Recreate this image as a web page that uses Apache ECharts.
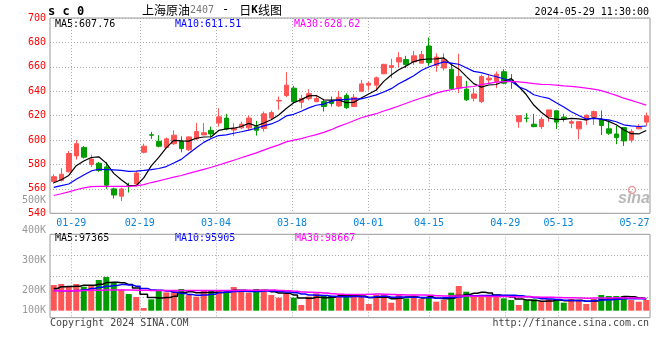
<!DOCTYPE html>
<html><head><meta charset="utf-8">
<script src="https://cdn.jsdelivr.net/npm/echarts@6/dist/echarts.min.js"></script>
<style>html,body{margin:0;padding:0;background:#fff}#c{width:660px;height:360px}</style>
</head><body><div id="c"></div>
<script>
const dates = ['01-24','01-25','01-26','01-29','01-30','01-31','02-01','02-02','02-05','02-06','02-07','02-08','02-19','02-20','02-21','02-22','02-23','02-26','02-27','02-28','02-29','03-01','03-04','03-05','03-06','03-07','03-08','03-11','03-12','03-13','03-14','03-15','03-18','03-19','03-20','03-21','03-22','03-25','03-26','03-27','03-28','03-29','04-01','04-02','04-03','04-08','04-09','04-10','04-11','04-12','04-15','04-16','04-17','04-18','04-19','04-22','04-23','04-24','04-25','04-26','04-29','04-30','05-06','05-07','05-08','05-09','05-10','05-13','05-14','05-15','05-16','05-17','05-20','05-21','05-22','05-23','05-24','05-27','05-28','05-29'];

const open = [566,567,574,587,594,580,581,578,560,554,
562.5,564,590,604.3,599,594,597,599,592,601,
604.2,608,614,618,608.3,610,610,611,609.5,618,
632,636.5,642.5,631,634,631.5,631.5,632,628,636.5,
627.5,640,645,645,654.3,659.5,664,666,664,663,
677,661,659,658,642.5,641.7,634.3,631.5,649.3,648,
656,649.3,615,618,613,611,619,624,618.8,613.8,
609.2,616.5,618.8,616.5,609.2,605,610.2,600,609.2,614.7];

const close = [570,572,589,597,586,584.5,575,563,555,560,
562,573,595,604,595,601,604,593,602.6,607,
606,605,619,609,609.7,613,618,608,621.5,622.5,
632.5,645,631.5,634,638,634,627.5,630,635,626.5,
635,646,646.5,651,662,661,667.5,662,669,670,
663.5,668,666,642,652,633,637.8,652,650.7,654,
646.6,648,620,617.8,611,617,624.7,614.7,617.4,615.1,
615.1,620.4,623.3,611.9,605.6,602,599.3,607,611,619.8];

const low = [564,566,573.5,584,585,578,574,560,552,550,
557,563,589,601,594,593.5,596,590,591,600,
604,602,611,608,603.4,609,607.6,603.7,607,617,
624.8,635.2,630.2,626,632.4,631,623.4,627.5,627,625.5,
627,639.3,641.2,640.3,654,650.7,659.7,659,661.7,663,
660.8,656,657,641,638.4,632,631.6,630.2,645.8,642.5,
645.8,642,610,614.5,610.5,609,615,609,615,609.7,
600.7,612.4,612.4,604.2,604.2,596.6,595.2,598,609,611.6];

const high = [572,577,591,600,595,588,582,582,561,561,
565,574.5,597,606.7,604,602,608,603,603,614,
614,611,626,621.5,613.8,615,620.4,615.7,623.3,624.2,
635.7,655.6,644.4,637,641.7,637,633.7,635.7,640.3,638.4,
637.9,649.3,648,652,662.5,666.6,672,669,673,673,
684,671,671,663,670.7,648.5,642.5,653.5,654,656.2,
658,654,620,622,621.5,618.8,624.7,624,621.5,616.5,
615.5,620.8,624.2,624.2,616,611.6,610.2,608.9,613,622.5];

const ma5 = [565,567.5,571,579,582.8,585.7,586.3,581.1,572.7,567.5,
563,562.6,569,578.8,585.8,593.6,599.8,599.4,599.1,601.5,
602.5,602.7,607.9,609.2,609.7,611.1,613.7,611.5,614,616.6,
620.5,625.9,630.6,633.1,636.2,636.5,633,632.7,632.9,630.6,
630.8,634.5,637.8,641,648.1,653.3,657.6,660.7,664.3,665.9,
666.4,666.5,667.3,661.9,658.3,652.2,646.2,643.4,645.1,645.5,
648.2,650.3,643.9,637.3,628.7,622.8,618.1,617,617,617.8,
617.4,616.5,618.3,617.2,615.3,612.6,608.4,605.2,605,607.8];

const ma10 = [561.3,562.7,564,567.9,571.4,574.7,576.1,575.8,575.5,575.2,
574.4,574.5,575.1,575.8,576.7,578.3,581.2,584.2,589,593.7,
598.1,601.3,603.7,604.2,605.6,606.8,608.2,609.7,611.6,613.2,
615.8,619.8,621.1,623.6,626.4,628.5,629.5,631.7,633,633.4,
633.7,633.8,635.3,637,639.4,642.1,646.1,649.3,652.7,657,
659.9,662.1,664,663.1,662.1,659.3,656.3,655.3,653.5,651.9,
650.2,648.2,643.6,641.2,637.1,635.5,634.2,630.5,627.1,623.2,
620.1,617.3,617.7,617.1,616.5,615,612.5,611.7,611.1,611.5];

const ma30 = [554.6,556,557.5,559.3,560.8,561.8,562,562,562,562,
562.1,562.5,563.5,565.2,566.6,568.1,569.6,571,572.7,574.3,
576,577.7,579.6,581.5,583.5,585.5,587.5,589.5,591.8,594,
596.1,598.5,599.9,601.2,602.9,604.5,606.3,608.5,611.2,613.4,
615.8,618.3,620,621.6,623.8,625.8,627.9,630.2,632.4,634.5,
636.4,638.5,640.1,641.2,642.6,643.3,643.9,645.4,646.4,647.4,
647.9,648,647.6,647.1,646.2,645.6,645.5,645,644.4,644,
643.4,642.5,641.8,640.5,638.6,636.6,634.3,632.5,630.6,628.6];

// volume in thousands
const vol = [208.7,216.8,200.5,216.8,195.1,208.7,249.3,273.7,227.6,173.4,
135.5,111.1,21.7,92.1,159.9,149,159.9,176.2,127.4,113.8,
159.9,168,168,146.3,192.4,159.9,146.3,176.2,159.9,127.4,
105.7,135.5,105.7,46.1,113.8,140.9,122,119.2,119.2,119.2,
127.4,113.8,54.2,127.4,127.4,65,135.5,100.3,124.7,94.9,
108.4,73.2,86.7,146.3,200.5,154.5,119.2,127.4,119.2,119.2,
100.3,86.7,46.1,86.7,92.1,73.2,92.1,86.7,65,94.9,
81.3,54.2,94.9,127.4,119.2,119.2,119.2,86.7,73.2,86.7];

const vma5 = [180,195,196,198,207.6,207.6,214.1,228.7,230.9,226.5,
211.9,184.3,133.9,106.8,104.1,106.8,116.5,147.4,154.5,145.3,
147.4,149.1,147.4,151.2,166.9,166.9,162.6,164.2,166.9,153.9,
143.1,140.9,126.8,104.1,101.4,108.4,105.7,108.4,123,124.1,
121.4,119.8,106.8,108.4,110,97.6,101.9,111.1,110.6,104.1,
112.8,100.3,97.6,101.9,123,132.2,141.4,149.6,144.2,127.9,
117.1,110.6,94.3,87.8,82.4,77,78,86.2,81.8,82.4,
84,76.4,78.1,90.5,95.4,103,116,114.3,103.5,97.4];

const vma10 = [165,163,163,164,170,180,190,198,205,212,
209.7,199.2,181.3,168.8,165.3,159.3,150.4,140.6,130.6,124.7,
127.1,132.8,147.4,152.8,156.1,157.2,155.8,155.8,159.1,160.4,
155,151.8,145.5,135.5,127.7,125.8,123.3,117.6,113.6,112.7,
114.9,112.7,107.6,115.7,117.1,109.5,110.8,108.9,109.5,107.1,
105.2,101.1,104.4,106.2,113.6,122.5,120.9,123.6,123,125.5,
124.7,126,121.9,116,105.1,97,94.3,90.2,84.8,82.4,
80.5,77.2,82.1,86.2,88.9,93.5,96.2,96.2,97,95.9];

const vma30 = [162,162,163,163,164,166,167,168,168,168,
168,167,166,165,165,164,164,164,164,164,
164,164,165,165,165,166,166,166,167,167.4,
164,161.2,158.1,152.4,149.7,147.4,143.2,138,134.4,132.6,
132.3,132.4,133.5,134.7,133.6,130.8,130,127.5,127.4,126.7,
125,121.9,119.2,119.2,119.4,119.2,118.3,116.7,115.4,115.1,
114.9,113.3,111.3,112.6,111.9,109.7,108.7,107.6,105.8,105,
103.4,101.4,102.8,102.8,102.5,104.3,103.8,103.3,101.6,98.7];

const priceTicks = [540, 560, 580, 600, 620, 640, 660, 680, 700];
const volTickLabels = ['100K', '200K', '300K', '400K', '500K'];
const dateLabelIdx = [3, 12, 22, 32, 42, 50, 60, 67, 77];
const dateGridIdx = [3, 12, 22, 32, 42, 50, 60, 67];

const RED = '#ff5555', GREEN = '#009c00';
const MONO = 'DejaVu Sans Mono';

const kData = dates.map((d, i) => [open[i], close[i], low[i], high[i]]);
const volData = vol.map((v, i) => ({ value: v, itemStyle: { color: close[i] >= open[i] ? RED : GREEN } }));

const dotted = { color: '#aaaaaa', width: 1, type: [1, 2] };

const chart = echarts.init(document.getElementById('c'), null, { renderer: 'canvas' });

function lineSeries(name, data, color, xi, yi, step) {
  return { name, type: 'line', data, xAxisIndex: xi, yAxisIndex: yi, showSymbol: false, symbol: 'none',
    step: step || false, lineStyle: { color, width: step ? 1.5 : 1.2 }, itemStyle: { color }, silent: true, z: 3 };
}

chart.setOption({
  animation: false,
  backgroundColor: '#fff',
  grid: [
    { left: 50, top: 18, width: 600, height: 195.3, show: true, borderColor: '#999', borderWidth: 1, backgroundColor: 'transparent' },
    { left: 50, top: 234.3, width: 600, height: 83.4, show: true, borderColor: '#999', borderWidth: 1, backgroundColor: 'transparent' },
    { left: 50, top: 200, width: 600, height: 120.7, show: false },
    { left: 48.5, top: 18, width: 601.3, height: 195.3, show: false },
    { left: 48.5, top: 234.3, width: 601.3, height: 83.4, show: false }
  ],
  xAxis: [
    { type: 'category', gridIndex: 0, data: dates, boundaryGap: true, axisLine: { show: false }, axisTick: { show: false }, axisLabel: { show: false }, splitLine: { show: false } },
    { type: 'category', gridIndex: 1, data: dates, boundaryGap: true, axisLine: { show: false }, axisTick: { show: false }, axisLabel: { show: false }, splitLine: { show: false } },
    { type: 'value', gridIndex: 2, show: false },
    { type: 'category', gridIndex: 3, data: dates, boundaryGap: false, axisLine: { show: false }, axisTick: { show: false },
      axisLabel: { show: true, interval: (i) => dateLabelIdx.includes(i), color: '#0a84d8', fontFamily: MONO, fontSize: 10, margin: 5 },
      splitLine: { show: true, interval: (i) => dateGridIdx.includes(i), lineStyle: dotted } },
    { type: 'category', gridIndex: 4, data: dates, boundaryGap: false, axisLine: { show: false }, axisTick: { show: false },
      axisLabel: { show: false },
      splitLine: { show: true, interval: (i) => dateGridIdx.includes(i), lineStyle: dotted } }
  ],
  yAxis: [
    { type: 'value', gridIndex: 0, min: priceTicks[0], max: priceTicks[priceTicks.length - 1], interval: 20, axisLine: { show: false }, axisTick: { show: false },
      axisLabel: { color: '#ff0000', fontFamily: MONO, fontSize: 10, margin: 4 }, splitLine: { show: true, lineStyle: dotted } },
    { type: 'value', gridIndex: 1, min: -57, max: 621, show: false, splitLine: { show: false } },
    { type: 'value', gridIndex: 1, min: 0, max: 4, interval: 1, axisLine: { show: false }, axisTick: { show: false }, axisLabel: { show: false }, splitLine: { show: true, lineStyle: dotted } },
    { type: 'value', gridIndex: 2, min: 100, max: 500, interval: 100, axisLine: { show: false }, axisTick: { show: false }, splitLine: { show: false },
      axisLabel: { color: '#999999', fontFamily: MONO, fontSize: 10, margin: 4,
        formatter: (v) => { const t = volTickLabels[Math.round(v / 100) - 1]; return v === 100 ? '{lo|' + t + '}' : t; },
        rich: { lo: { color: '#999999', fontFamily: MONO, fontSize: 10, padding: [0, 0, 21, 0] } } } },
    { type: 'value', gridIndex: 3, show: false },
    { type: 'value', gridIndex: 4, show: false }
  ],
  series: [
    { name: 'K', type: 'candlestick', xAxisIndex: 0, yAxisIndex: 0, data: kData, barWidth: 5, silent: true,
      itemStyle: { color: RED, color0: GREEN, borderColor: RED, borderColor0: GREEN, borderWidth: 1 } },
    lineSeries('MA5', ma5, '#000000', 0, 0),
    lineSeries('MA10', ma10, '#0000ff', 0, 0),
    lineSeries('MA30', ma30, '#ff00ff', 0, 0),
    { name: 'VOL', type: 'bar', xAxisIndex: 1, yAxisIndex: 1, data: volData, barWidth: 6, silent: true },
    lineSeries('VMA5', vma5, '#000000', 1, 1, 'middle'),
    lineSeries('VMA10', vma10, '#0000ff', 1, 1, 'middle'),
    lineSeries('VMA30', vma30, '#ff00ff', 1, 1, 'middle')
  ],
  graphic: [
    { type: 'text', x: 48, y: 12, style: { text: 's c 0', font: 'bold 12px ' + MONO, fill: '#000', verticalAlign: 'middle' } },
    { type: 'text', x: 142, y: 10, style: { text: '{a|上海原油}{b|2407}{d|-}{a|日}{k|K}{a|线图}', verticalAlign: 'middle',
        rich: { a: { fontFamily: 'Noto Sans CJK SC', fontSize: 12, fill: '#000' },
                b: { fontFamily: MONO, fontSize: 10, fill: '#777' },
                d: { fontFamily: MONO, fontSize: 12, fill: '#000', padding: [0, 10, 0, 8] },
                k: { fontFamily: MONO, fontSize: 11, fontWeight: 'bold', fill: '#000' } } } },
    { type: 'text', x: 649, y: 12, style: { text: '2024-05-29 11:30:00', font: '10px ' + MONO, fill: '#000', align: 'right', verticalAlign: 'middle' } },
    { type: 'text', x: 55, y: 24, style: { text: 'MA5:607.76', font: '10px ' + MONO, fill: '#000', verticalAlign: 'middle' } },
    { type: 'text', x: 175, y: 24, style: { text: 'MA10:611.51', font: '10px ' + MONO, fill: '#0000ff', verticalAlign: 'middle' } },
    { type: 'text', x: 294, y: 24, style: { text: 'MA30:628.62', font: '10px ' + MONO, fill: '#ff00ff', verticalAlign: 'middle' } },
    { type: 'text', x: 55, y: 238, style: { text: 'MA5:97365', font: '10px ' + MONO, fill: '#000', verticalAlign: 'middle' } },
    { type: 'text', x: 175, y: 238, style: { text: 'MA10:95905', font: '10px ' + MONO, fill: '#0000ff', verticalAlign: 'middle' } },
    { type: 'text', x: 295, y: 238, style: { text: 'MA30:98667', font: '10px ' + MONO, fill: '#ff00ff', verticalAlign: 'middle' } },
    { type: 'text', x: 50, y: 323.5, style: { text: 'Copyright 2024 SINA.COM', font: '10px ' + MONO, fill: '#444', verticalAlign: 'middle' } },
    { type: 'text', x: 649, y: 323.5, style: { text: 'http://finance.sina.com.cn', font: '10px ' + MONO, fill: '#444', align: 'right', verticalAlign: 'middle' } },
    { type: 'circle', shape: { cx: 632, cy: 190, r: 3.5 }, style: { fill: 'none', stroke: '#e9a0a0', lineWidth: 1.5 }, z: 1 },
    { type: 'text', x: 650, y: 199, style: { text: 'sina', font: 'italic bold 16px Liberation Sans', fill: '#b0b0b0', align: 'right', verticalAlign: 'middle', opacity: 0.9 }, z: 1 }
  ]
});
</script></body></html>
